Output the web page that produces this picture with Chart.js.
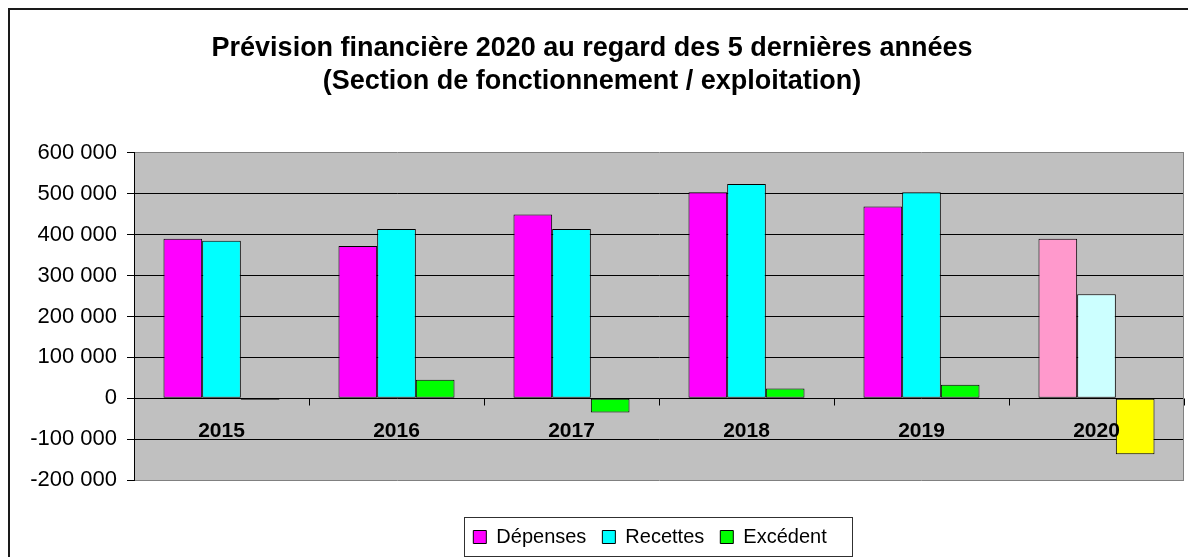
<!DOCTYPE html>
<html>
<head>
<meta charset="utf-8">
<script src="https://cdn.jsdelivr.net/npm/chart.js@4/dist/chart.umd.min.js"></script>
<style>
  html, body { margin: 0; padding: 0; background: #ffffff; }
  #wrap { width: 1188px; height: 557px; }
</style>
</head>
<body>
<div id="wrap"><canvas id="c" width="1188" height="557"></canvas></div>
<script>
// ---- Data ----
const categories = ['2015', '2016', '2017', '2018', '2019', '2020'];
const seriesNames = ['Dépenses', 'Recettes', 'Excédent'];
const depenses = [390000, 372000, 449000, 504000, 469000, 390000];
const recettes = [385000, 414000, 414000, 524000, 504000, 254000];
const excedent = [-4000, 45000, -35000, 24000, 33000, -137000];
const yTickValues = [-200000, -100000, 0, 100000, 200000, 300000, 400000, 500000, 600000];
const titleLines = ['Prévision financière 2020 au regard des 5 dernières années', '(Section de fonctionnement / exploitation)'];

// ---- Styles ----
const seriesColors = ['#FF00FF', '#00FFFF', '#00FF00'];
const forecastColors = ['#FF99CC', '#CCFFFF', '#FFFF00'];
const FONT = "'Liberation Sans', Arial, sans-serif";
const LEGEND_SHIFT = 9;

function colorsFor(i) {
  return categories.map((c, k) => k === categories.length - 1 ? forecastColors[i] : seriesColors[i]);
}
function fmt(v) {
  const s = Math.abs(v).toString().replace(/\B(?=(\d{3})+(?!\d))/g, ' ');
  return (v < 0 ? '-' : '') + s;
}

const decorPlugin = {
  id: 'decor',
  afterLayout(chart) {
    if (chart.legend) {
      chart.legend.left -= LEGEND_SHIFT;
      chart.legend.right -= LEGEND_SHIFT;
    }
  },
  beforeDraw(chart) {
    const {ctx, chartArea: a} = chart;
    ctx.save();
    ctx.fillStyle = '#ffffff';
    ctx.fillRect(0, 0, chart.width, chart.height);
    ctx.fillStyle = '#C0C0C0';
    ctx.fillRect(a.left, a.top, a.right - a.left, a.bottom - a.top);
    ctx.restore();
  },
  afterDraw(chart) {
    const {ctx, chartArea: a, scales} = chart;
    const x = scales.x, y = scales.y;
    const zeroY = Math.round(y.getPixelForValue(0)) + 0.5;
    ctx.save();
    // right border of plot area
    ctx.strokeStyle = '#808080';
    ctx.lineWidth = 1;
    ctx.beginPath();
    ctx.moveTo(Math.round(a.right) - 0.5, a.top);
    ctx.lineTo(Math.round(a.right) - 0.5, a.bottom);
    ctx.stroke();
    // category tick marks on the zero line
    ctx.strokeStyle = '#000';
    ctx.beginPath();
    for (let i = 0; i <= categories.length; i++) {
      const px = Math.round(x.getPixelForValue(i - 0.5)) + 0.5;
      ctx.moveTo(px, zeroY);
      ctx.lineTo(px, zeroY + 7);
    }
    ctx.stroke();
    // category labels below zero line
    ctx.fillStyle = '#000';
    ctx.font = 'bold 21px ' + FONT;
    ctx.textAlign = 'center';
    ctx.textBaseline = 'middle';
    categories.forEach((c, i) => {
      ctx.fillText(c, x.getPixelForValue(i), y.getPixelForValue(0) + 33);
    });
    // legend box
    const lg = chart.legend;
    if (lg && lg.legendHitBoxes && lg.legendHitBoxes.length) {
      const hb = lg.legendHitBoxes;
      const l = hb[0].left - 9;
      const r = hb[hb.length - 1].left + hb[hb.length - 1].width + 26;
      ctx.strokeStyle = '#303030';
      ctx.lineWidth = 1;
      ctx.strokeRect(Math.round(l) + 0.5, 517.5, Math.round(r - l), 39);
    }
    // outer chart border (left + top)
    ctx.strokeStyle = '#1a1a1a';
    ctx.lineWidth = 2;
    ctx.beginPath();
    ctx.moveTo(9, chart.height);
    ctx.lineTo(9, 9);
    ctx.lineTo(chart.width, 9);
    ctx.stroke();
    ctx.restore();
  }
};

const datasets = [depenses, recettes, excedent].map((d, i) => ({
  label: seriesNames[i],
  data: d,
  backgroundColor: colorsFor(i),
  borderColor: '#000',
  borderWidth: 1,
  borderSkipped: false,
  categoryPercentage: 0.663,
  barPercentage: 1.0
}));

new Chart(document.getElementById('c'), {
  type: 'bar',
  data: { labels: categories, datasets },
  plugins: [decorPlugin],
  options: {
    responsive: false,
    devicePixelRatio: 1,
    animation: false,
    layout: { padding: { left: 0, right: 4, top: 0, bottom: 0 } },
    plugins: {
      title: {
        display: true,
        text: titleLines,
        color: '#000',
        font: { family: FONT, size: 27, weight: 'bold', lineHeight: 1.22 },
        padding: { top: 32, bottom: 55 }
      },
      legend: {
        display: true,
        position: 'bottom',
        fullSize: false,
        labels: {
          color: '#000',
          font: { family: FONT, size: 20 },
          boxWidth: 13,
          boxHeight: 13,
          padding: 16,
          generateLabels: () => seriesNames.map((n, i) => ({
            text: n,
            fillStyle: seriesColors[i],
            strokeStyle: '#000',
            lineWidth: 1,
            datasetIndex: i,
            hidden: false
          }))
        }
      },
      tooltip: { enabled: false }
    },
    scales: {
      x: {
        display: true,
        ticks: { display: false },
        grid: { display: false },
        border: { display: false },
        afterFit: s => { s.height = 31; }
      },
      y: {
        min: -200000,
        max: 600000,
        afterBuildTicks: s => { s.ticks = yTickValues.map(v => ({ value: v })); },
        afterFit: s => { s.width = 134; },
        ticks: {
          color: '#000',
          font: { family: FONT, size: 22 },
          padding: 10,
          callback: v => fmt(v)
        },
        grid: {
          color: c => (c.tick && (c.tick.value === 600000 || c.tick.value === -200000)) ? '#808080' : '#000',
          tickColor: '#000',
          tickLength: 7,
          lineWidth: 1
        },
        border: { display: true, color: '#000', width: 1 }
      }
    }
  }
});
</script>
</body>
</html>
